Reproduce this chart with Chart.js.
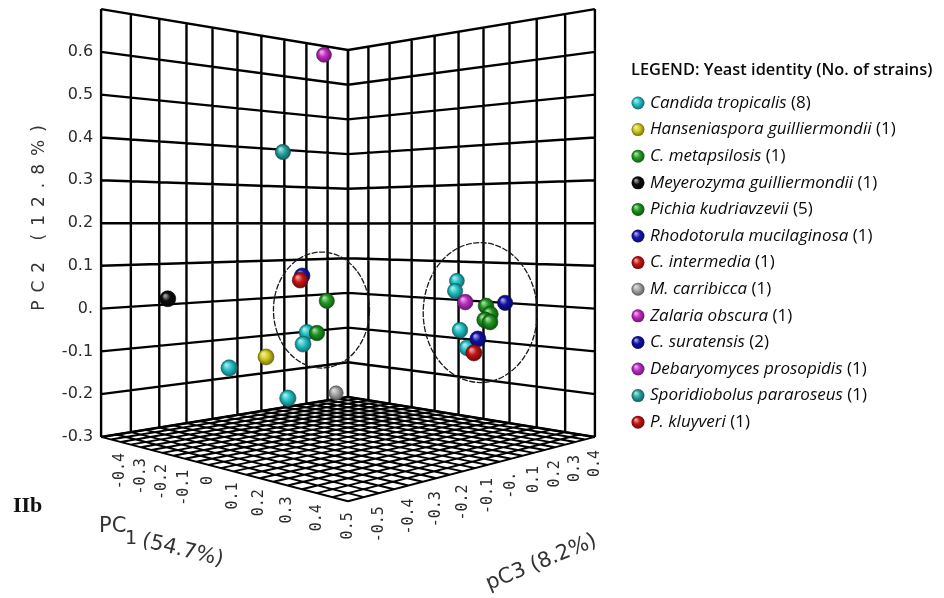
<!DOCTYPE html>
<html>
<head>
<meta charset="utf-8">
<title>PCA yeast strains</title>
<script src="https://cdn.jsdelivr.net/npm/chart.js@4.4.1/dist/chart.umd.min.js"></script>
<style>
  html, body { margin: 0; padding: 0; background: #fff; }
  canvas { display: block; }
</style>
</head>
<body>
<canvas id="grafico" width="944" height="598"></canvas>
<script>
// legend entries
const species = ['Candida tropicalis', 'Hanseniaspora guilliermondii', 'C. metapsilosis', 'Meyerozyma guilliermondii',
    'Pichia kudriavzevii', 'Rhodotorula mucilaginosa', 'C. intermedia', 'M. carribicca', 'Zalaria obscura',
    'C. suratensis', 'Debaryomyces prosopidis', 'Sporidiobolus pararoseus', 'P. kluyveri'];
const strains = [8, 1, 1, 1, 5, 1, 1, 1, 1, 2, 1, 1, 1];
const colors = ['#22c3c6', '#d2cc1c', '#24a024', '#0c0c0c', '#1c961c', '#1818b4', '#cc1414', '#a6a6a6',
    '#c42ac4', '#1010aa', '#bc2ec4', '#26a6a2', '#c81212'];

// scores per strain: [PC1, PC2, PC3]
const candidaTropicalis = [[-0.135, -0.061, -0.135], [-0.091, -0.083, -0.191], [-0.185, -0.131, -0.385],
    [-0.069, -0.200, -0.269], [0.086, 0.056, 0.286], [0.127, 0.034, 0.227], [0.182, -0.056, 0.182], [0.219, -0.095, 0.169]];
const hanseniaspora = [[-0.166, -0.113, -0.266]];
const cMetapsilosis = [[-0.145, 0.010, -0.045]];
const meyerozyma = [[-0.365, 0.023, -0.465]];
const pichiaKudriavzevii = [[-0.140, -0.066, -0.090], [0.236, 0.002, 0.236], [0.288, -0.013, 0.188],
    [0.299, -0.024, 0.149], [0.266, -0.034, 0.216]];
const rhodotorula = [[-0.145, 0.074, -0.145]];
const cIntermedia = [[-0.123, 0.065, -0.173]];
const mCarribicca = [[-0.277, -0.243, 0.123]];
const zalaria = [[-0.202, 0.621, -0.002]];
const cSuratensis = [[0.233, 0.005, 0.333], [0.263, -0.071, 0.163]];
const debaryomyces = [[0.193, 0.011, 0.193]];
const sporidiobolus = [[-0.238, 0.374, -0.138]];
const pKluyveri = [[0.277, -0.100, 0.127]];
const scores = [candidaTropicalis, hanseniaspora, cMetapsilosis, meyerozyma, pichiaKudriavzevii, rhodotorula,
    cIntermedia, mCarribicca, zalaria, cSuratensis, debaryomyces, sporidiobolus, pKluyveri];

// axes
const pc1Range = [-0.5, 0.5];
const pc2Range = [-0.3, 0.7];
const pc3Range = [-0.6, 0.4];
const pc1Ticks = [-0.5, -0.4, -0.3, -0.2, -0.1, 0, 0.1, 0.2, 0.3, 0.4, 0.5];
const pc2Ticks = [-0.3, -0.2, -0.1, 0, 0.1, 0.2, 0.3, 0.4, 0.5, 0.6, 0.7];
const pc3Ticks = [-0.6, -0.5, -0.4, -0.3, -0.2, -0.1, 0, 0.1, 0.2, 0.3, 0.4];
const pc1LabelValues = [-0.4, -0.3, -0.2, -0.1, 0, 0.1, 0.2, 0.3, 0.4, 0.5];
const pc1Labels = ['-0.4', '-0.3', '-0.2', '-0.1', '0', '0.1', '0.2', '0.3', '0.4', '0.5'];
const pc2LabelValues = [0.6, 0.5, 0.4, 0.3, 0.2, 0.1, 0, -0.1, -0.2, -0.3];
const pc2Labels = ['0.6', '0.5', '0.4', '0.3', '0.2', '0.1', '0.', '-0.1', '-0.2', '-0.3'];
const pc3LabelValues = [-0.5, -0.4, -0.3, -0.2, -0.1, 0, 0.1, 0.2, 0.3, 0.4];
const pc3Labels = ['-0.5', '-0.4', '-0.3', '-0.2', '-0.1', '-0.', '0.1', '0.2', '0.3', '0.4'];

// the two circled groups: centre in PC space, radii in px
const rings = [
    { center: [-0.105, -0.008, -0.105], rx: 48, ry: 58 },
    { center: [0.224, -0.014, 0.224], rx: 57, ry: 70 }
];

// perspective camera looking at the box corner
const view = { focal: 1058, dist: 4.285, eye: 0.856, height: 1.733 };

function project(pc1, pc2, pc3) {
    const u = (pc3 - pc3Range[0]) / (pc3Range[1] - pc3Range[0]);
    const v = (pc1 - pc1Range[0]) / (pc1Range[1] - pc1Range[0]);
    const z = (pc2 - pc2Range[0]) / (pc2Range[1] - pc2Range[0]) * view.height;
    const d = u - v + view.dist;
    return { x: view.focal * (u + v - 1) / d, y: view.focal * (z - view.eye) / d, d: d };
}

function shade(hex, t) {
    const n = parseInt(hex.slice(1), 16);
    let r = n >> 16, g = (n >> 8) & 255, b = n & 255;
    const target = t > 0 ? 255 : 0, k = Math.abs(t);
    r = Math.round(r + (target - r) * k);
    g = Math.round(g + (target - g) * k);
    b = Math.round(b + (target - b) * k);
    return `rgb(${r}, ${g}, ${b})`;
}

function ballGradient(ctx, x, y, r, color) {
    const g = ctx.createRadialGradient(x - r * 0.35, y - r * 0.4, r * 0.1, x, y, r);
    g.addColorStop(0, shade(color, 0.6));
    g.addColorStop(0.45, color);
    g.addColorStop(1, shade(color, -0.45));
    return g;
}

function ballRadius(c) {
    return c.raw && c.raw.d ? 8 * view.dist / c.raw.d : 8;
}

function gridSegments(segs) {
    let out = [];
    segs.forEach(s => {
        const a = project(...s[0]), b = project(...s[1]);
        out.push({ x: a.x, y: a.y }, { x: b.x, y: b.y }, { x: b.x, y: null });
    });
    return out;
}

let leftWall = [], rightWall = [], floor = [];
pc3Ticks.forEach(t => leftWall.push([[pc1Range[0], pc2Range[0], t], [pc1Range[0], pc2Range[1], t]]));
pc2Ticks.forEach(t => leftWall.push([[pc1Range[0], t, pc3Range[0]], [pc1Range[0], t, pc3Range[1]]]));
pc1Ticks.forEach(t => rightWall.push([[t, pc2Range[0], pc3Range[1]], [t, pc2Range[1], pc3Range[1]]]));
pc2Ticks.forEach(t => rightWall.push([[pc1Range[0], t, pc3Range[1]], [pc1Range[1], t, pc3Range[1]]]));
for (let i = 0; i <= 20; i++) {
    const a = pc1Range[0] + i * 0.05, b = pc3Range[0] + i * 0.05;
    floor.push([[a, pc2Range[0], pc3Range[0]], [a, pc2Range[0], pc3Range[1]]]);
    floor.push([[pc1Range[0], pc2Range[0], b], [pc1Range[1], pc2Range[0], b]]);
}

const gridStyle = { type: 'scatter', showLine: true, pointRadius: 0, pointBorderWidth: 0, borderColor: '#000', order: 100 };
let datasets = [
    Object.assign({ data: gridSegments(leftWall), borderWidth: 2.4 }, gridStyle),
    Object.assign({ data: gridSegments(rightWall), borderWidth: 2.4 }, gridStyle),
    Object.assign({ data: gridSegments(floor), borderWidth: 1.9 }, gridStyle)
];

species.forEach((name, i) => {
    const color = colors[i];
    datasets.push({
        label: name,
        data: scores[i].map(s => project(s[0], s[1], s[2])),
        order: 20 - i,
        pointRadius: ballRadius,
        pointBorderWidth: 0.6,
        pointBorderColor: shade(color, -0.5),
        pointBackgroundColor: c => {
            if (c.type !== 'data' || !c.parsed) return color;
            const ch = c.chart;
            const x = ch.scales.x.getPixelForValue(c.parsed.x);
            const y = ch.scales.y.getPixelForValue(c.parsed.y);
            const r = ballRadius(c);
            if (![x, y, r].every(Number.isFinite)) return color;
            return ballGradient(ch.ctx, x, y, r, color);
        }
    });
});

const decor = {
    id: 'decor',
    afterDraw(chart) {
        const ctx = chart.ctx;
        const sx = chart.scales.x, sy = chart.scales.y;
        const toPx = (a, b, c) => {
            const p = project(a, b, c);
            return [sx.getPixelForValue(p.x), sy.getPixelForValue(p.y)];
        };
        ctx.save();

        // circled groups
        ctx.strokeStyle = '#1a1a1a';
        ctx.lineWidth = 1.3;
        ctx.setLineDash([6, 1.5]);
        rings.forEach(r => {
            const [x, y] = toPx(...r.center);
            ctx.beginPath();
            ctx.ellipse(x, y, r.rx, r.ry, 0, 0, Math.PI * 2);
            ctx.stroke();
        });
        ctx.setLineDash([]);

        // PC2 ticks
        ctx.fillStyle = '#2b2b2b';
        ctx.font = '16px "DejaVu Sans"';
        ctx.textAlign = 'right';
        ctx.textBaseline = 'middle';
        pc2LabelValues.forEach((t, i) => {
            const [x, y] = toPx(pc1Range[0], t, pc3Range[0]);
            ctx.fillText(pc2Labels[i], x - 8, y);
        });

        // PC1 and PC3 ticks, written upwards
        ctx.font = '15px "DejaVu Sans Mono"';
        ctx.textAlign = 'right';
        pc1LabelValues.forEach((t, i) => {
            const [x, y] = toPx(t, pc2Range[0], pc3Range[0]);
            ctx.save();
            ctx.translate(x, y + 11);
            ctx.rotate(-Math.PI / 2);
            ctx.fillText(pc1Labels[i], 0, 0);
            ctx.restore();
        });
        pc3LabelValues.forEach((t, i) => {
            const [x, y] = toPx(pc1Range[1], pc2Range[0], t);
            ctx.save();
            ctx.translate(x, y + 13);
            ctx.rotate(-Math.PI / 2);
            ctx.fillText(pc3Labels[i], 0, 0);
            ctx.restore();
        });

        // axis titles
        ctx.fillStyle = '#333';
        ctx.save();
        ctx.translate(40, 218);
        ctx.rotate(-Math.PI / 2);
        ctx.font = '17px "DejaVu Sans"';
        ctx.letterSpacing = '8px';
        ctx.textAlign = 'center';
        ctx.fillText('PC2 (12.8%)', 4, 0);
        ctx.restore();
        ctx.letterSpacing = '0px';

        ctx.textAlign = 'left';
        ctx.textBaseline = 'alphabetic';
        ctx.font = '21px "DejaVu Sans"';
        ctx.fillText('PC', 99, 532);
        ctx.font = '19px "DejaVu Sans"';
        ctx.fillText('1', 125, 544);
        ctx.save();
        ctx.translate(141, 546);
        ctx.rotate(0.24);
        ctx.font = '21px "DejaVu Sans"';
        ctx.fillText('(54.7%)', 0, 0);
        ctx.restore();

        ctx.save();
        ctx.translate(489, 590);
        ctx.rotate(-0.39);
        ctx.font = '21px "DejaVu Sans"';
        ctx.fillText('pC3 (8.2%)', 0, 0);
        ctx.restore();

        ctx.fillStyle = '#111';
        ctx.font = 'bold 22px "Liberation Serif"';
        ctx.fillText('IIb', 13, 512);

        // legend
        ctx.textBaseline = 'middle';
        ctx.fillStyle = '#0a0a0a';
        ctx.font = '600 16.4px "Open Sans"';
        ctx.fillText('LEGEND: Yeast identity (No. of strains)', 631, 70);
        species.forEach((name, i) => {
            const y = 103 + i * 26.6;
            ctx.beginPath();
            ctx.arc(638, y, 6.5, 0, Math.PI * 2);
            ctx.fillStyle = ballGradient(ctx, 638, y, 6.5, colors[i]);
            ctx.fill();
            ctx.fillStyle = '#0a0a0a';
            ctx.font = 'italic 17px "Open Sans"';
            ctx.fillText(name, 650, y);
            const w = ctx.measureText(name + ' ').width;
            ctx.font = '17px "Open Sans"';
            ctx.fillText('(' + strains[i] + ')', 650 + w, y);
        });
        ctx.restore();
    }
};

new Chart(document.getElementById('grafico'), {
    type: 'scatter',
    data: { datasets: datasets },
    options: {
        responsive: false,
        animation: false,
        events: [],
        layout: { padding: 0, autoPadding: false },
        scales: {
            x: { type: 'linear', min: -348, max: 596, display: false },
            y: { type: 'linear', min: -372.4, max: 225.6, display: false }
        },
        plugins: { legend: { display: false }, tooltip: { enabled: false } }
    },
    plugins: [decor]
});
</script>
</body>
</html>
